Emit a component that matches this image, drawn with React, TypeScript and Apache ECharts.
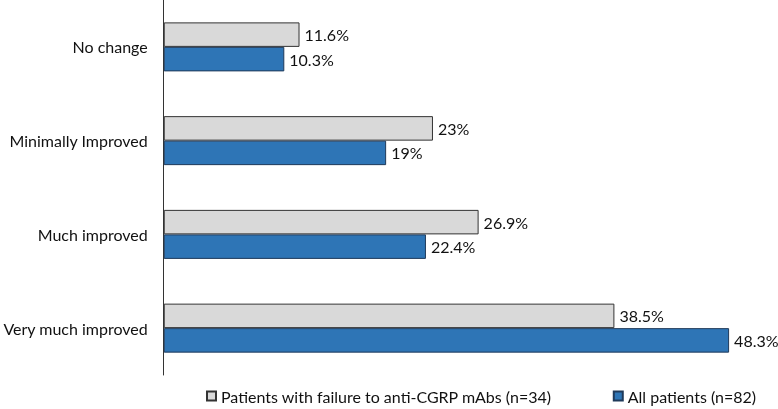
import * as echarts from "echarts";
import { useEffect, useRef } from "react";

const categories = [
  "No change",
  "Minimally Improved",
  "Much improved",
  "Very much improved",
];
const failureSeriesName = "Patients with failure to anti-CGRP mAbs (n=34)";
const allSeriesName = "All patients (n=82)";
const failureValues = [11.6, 23, 26.9, 38.5];
const allValues = [10.3, 19, 22.4, 48.3];

const FONT = "Lato, 'Liberation Sans', sans-serif";

export default function App() {
  const chartRef = useRef<HTMLDivElement | null>(null);

  useEffect(() => {
    const el = chartRef.current;
    if (!el) return;
    const chart = echarts.init(el, undefined, { renderer: "svg" });

    const label = {
      show: true,
      position: "right" as const,
      distance: 5,
      fontSize: 16,
      fontFamily: FONT,
      color: "#111",
      formatter: (p: { value: number }) => `${p.value}%`,
    };

    const option: echarts.EChartsOption = {
      animation: false,
      textStyle: { fontFamily: FONT },
      grid: { left: 163, right: 29, top: 0, bottom: 34 },
      legend: {
        top: 383,
        left: 201,
        itemWidth: 9,
        itemHeight: 9,
        itemGap: 61,
        icon: "rect",
        textStyle: { fontSize: 16, fontFamily: FONT, color: "#111" },
        data: [failureSeriesName, allSeriesName],
      },
      xAxis: {
        type: "value",
        min: 0,
        max: 50,
        show: false,
      },
      yAxis: {
        type: "category",
        inverse: true,
        data: categories,
        axisLine: { lineStyle: { color: "#333", width: 1 } },
        axisTick: { show: false },
        axisLabel: {
          fontSize: 16,
          fontFamily: FONT,
          color: "#111",
          margin: 16,
        },
      },
      series: [
        {
          name: failureSeriesName,
          type: "bar",
          data: failureValues,
          barWidth: 24.5,
          barGap: "0%",
          itemStyle: { color: "#d9d9d9", borderColor: "#333", borderWidth: 1 },
          label,
        },
        {
          name: allSeriesName,
          type: "bar",
          data: allValues,
          barWidth: 24.5,
          barGap: "0%",
          itemStyle: { color: "#2e75b6", borderColor: "#1f3a5a", borderWidth: 1 },
          label,
        },
      ],
    };

    chart.setOption(option);

    return () => {
      if (!chart.isDisposed()) chart.dispose();
    };
  }, []);

  return (
    <div
      ref={chartRef}
      style={{ position: "fixed", left: 0, top: 0, width: 778, height: 409 }}
    />
  );
}
